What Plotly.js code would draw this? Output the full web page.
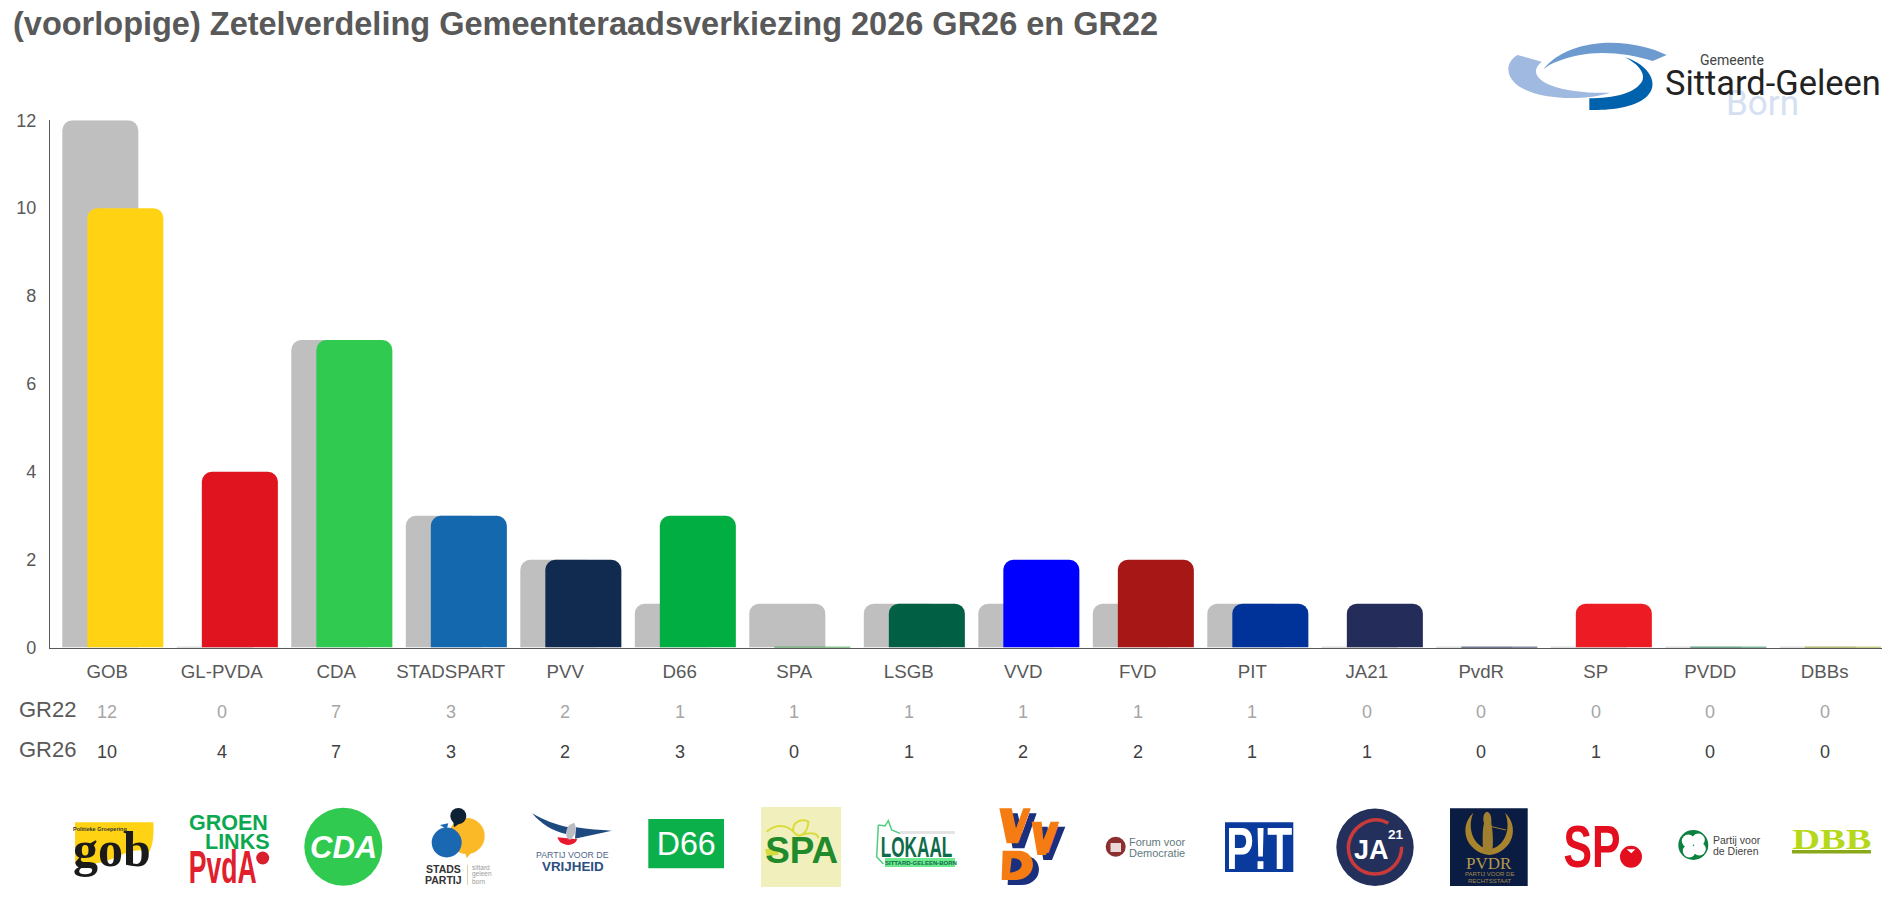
<!DOCTYPE html>
<html>
<head>
<meta charset="utf-8">
<script src="https://cdn.plot.ly/plotly-3.0.1.min.js"></script>
<style>html,body{margin:0;padding:0;background:#fff}#chart{width:1890px;height:908px}</style>
</head>
<body>
<div id="chart"></div>
<script>
const parties = ['GOB','GL-PVDA','CDA','STADSPART','PVV','D66','SPA','LSGB','VVD','FVD','PIT','JA21','PvdR','SP','PVDD','DBBs'];
const gr22 = [12,0,7,3,2,1,1,1,1,1,1,0,0,0,0,0];
const gr26 = [10,4,7,3,2,3,0,1,2,2,1,1,0,1,0,0];
const gr26Colors = ['#ffd314','#e0141e','#2fca4f','#1468ae','#102a50','#00ae42','#218a2b','#015f43','#0000ff','#a61716','#003399','#242c5a','#0a1c42','#ed1c24','#006b3c','#8a9a10'];
const gr22Color = '#bfbfbf';
const chartTitle = '(voorlopige) Zetelverdeling Gemeenteraadsverkiezing 2026 GR26 en GR22';
const rowLabels = ['GR22','GR26'];
const yTicks = [0,2,4,6,8,10,12];

const W = 1890, H = 908;
const PX = x => x / W, PY = y => 1 - y / H;
const SANS = 'Liberation Sans, Arial, sans-serif', SERIF = 'Liberation Serif, serif', DIN = 'Roboto, sans-serif';

const annotations = [];
const squeeze = {};
function txt(x, y, text, size, color, o = {}) {
  if (o.len) squeeze[annotations.length] = o.len;
  annotations.push({xref:'paper', yref:'paper', x:PX(x), y:PY(y), text, showarrow:false,
    xanchor:o.anchor||'center', yanchor:'middle', borderpad:0,
    font:{family:o.family||SANS, size, color, weight:o.bold?'bold':'normal', style:o.italic?'italic':'normal'}});
}
const shapes = [];
function path(ox, oy, d, fill, line, lw) {
  const p = d.replace(/(-?\d+\.?\d*),(-?\d+\.?\d*)/g, (m,a,b) =>
    PX(ox + a/3).toFixed(5) + ',' + PY(oy + b/3).toFixed(5));
  shapes.push({type:'path', xref:'paper', yref:'paper', path:p, fillcolor:fill||'rgba(0,0,0,0)',
    line:{color:line||'rgba(0,0,0,0)', width:lw||0}, layer:'above'});
}
function circle(cx, cy, r, fill) {
  shapes.push({type:'circle', xref:'paper', yref:'paper', x0:PX(cx-r), x1:PX(cx+r), y0:PY(cy+r), y1:PY(cy-r),
    fillcolor:fill, line:{width:0}, layer:'above'});
}
function rect(x0, y0, x1, y1, fill) {
  shapes.push({type:'rect', xref:'paper', yref:'paper', x0:PX(x0), x1:PX(x1), y0:PY(y1), y1:PY(y0),
    fillcolor:fill, line:{width:0}, layer:'above'});
}

/* table rows under the axis */
parties.forEach((p,i) => {
  annotations.push({xref:'x', yref:'paper', x:p, y:PY(712), text:String(gr22[i]), showarrow:false, yanchor:'middle',
    font:{family:SANS, size:18, color:'#a6a6a6'}});
  annotations.push({xref:'x', yref:'paper', x:p, y:PY(752), text:String(gr26[i]), showarrow:false, yanchor:'middle',
    font:{family:SANS, size:18, color:'#404040'}});
});
txt(18, 709, rowLabels[0], 22, '#595959', {anchor:'left'});
txt(18, 749, rowLabels[1], 22, '#595959', {anchor:'left'});

/* municipal logo */
path(1490,30,'M160,118 C200,65 280,38 360,38 C430,38 490,55 530,75 L488,93 C420,70 330,62 270,75 C220,85 180,100 160,118 Z','#6e9bcf');
path(1490,30,'M82,75 L155,95 C125,120 135,145 180,165 C230,185 300,190 360,188 C280,215 130,210 75,160 C45,130 50,95 82,75 Z','#a0b9e0');
path(1490,30,'M405,82 C480,105 510,165 470,200 C430,235 360,240 298,240 L298,205 C370,205 440,190 458,150 C465,125 440,100 405,82 Z','#0061ac');
txt(1762, 103, 'Born', 35, '#d5e0f3', {family:DIN});
txt(1731.5, 60, 'Gemeente', 14, '#444444', {family:DIN});
txt(1773, 82.5, 'Sittard-Geleen', 34.4, '#222222', {family:DIN});

/* gob */
path(50,790,'M75,97 L310,97 C312,130 310,170 295,190 C270,170 235,185 190,205 C150,225 100,225 75,215 Z','#ffd314');
txt(112, 849, 'gob', 50, '#1a1a1a', {family:SERIF, bold:true});
txt(99.5, 828.5, 'Politieke Groepering', 5.5, '#333333', {bold:true});
/* GroenLinks PvdA */
txt(228, 823, 'GROEN', 21.5, '#0aa84f', {bold:true});
txt(237, 841.5, 'LINKS', 21.5, '#0aa84f', {bold:true});
txt(223, 867, 'PvdA', 46, '#e0202c', {bold:true, len:68});
circle(262.7, 858, 6.5, '#d8202c');
/* CDA */
circle(343.3, 846.7, 39, '#2fca4f');
txt(343, 847, 'CDA', 31, '#ffffff', {bold:true, italic:true});
/* Stadspartij */
circle(466.7, 836, 18, '#fbb927');
circle(446.7, 842.5, 15, '#1a68b1');
circle(458.3, 816, 8, '#0f2233');
path(50,790,'M1210,95 L1212,112 L1232,98 Z','#0f2233');
path(50,790,'M1170,105 L1195,100 L1190,118 Z','#1a68b1');
path(50,790,'M1245,185 L1250,205 L1270,180 Z','#fbb927');
rect(467, 865, 467.8, 885, '#d8c58a');
txt(443, 869, 'STADS', 10.5, '#333333', {bold:true});
txt(443, 880, 'PARTIJ', 10.5, '#333333', {bold:true});
txt(471, 867, 'sittard', 6.5, '#999999', {anchor:'left'});
txt(471, 874, 'geleen', 6.5, '#999999', {anchor:'left'});
txt(471, 881, 'born', 6.5, '#999999', {anchor:'left'});
/* PVV */
path(500,790,'M97,70 C130,90 170,105 205,112 L198,132 C160,125 120,100 97,70 Z','#1f4a80');
path(500,790,'M228,112 C265,118 300,120 335,122 C300,130 260,138 225,146 Z','#1f4a80');
path(500,790,'M172,142 L232,148 C225,165 205,168 192,162 C180,160 175,150 172,142 Z','#e8192c');
path(500,790,'M222,98 C232,110 228,135 210,150 C195,145 195,120 208,105 Z','#b9bcc2');
txt(572.5, 854.5, 'PARTIJ VOOR DE', 8.8, '#50668a');
txt(573, 866.5, 'VRIJHEID', 13.4, '#2b4f80', {bold:true});
/* D66 */
rect(648.3, 819, 724, 868.3, '#0cb04a');
txt(686, 843.5, 'D66', 33, '#ffffff', {len:59});
/* SPA */
rect(761, 807, 841, 887, '#f1f0bd');
path(500,790,'M800,125 C830,100 860,105 880,125 C875,95 905,85 925,95 C925,115 915,130 905,135 C930,125 955,130 955,145 M880,125 C890,135 895,140 905,135','',"#d9dc3e",2);
path(500,790,'M795,178 L840,172 L835,195 L800,198 Z','#d9dc3e');
txt(801.5, 850, 'SPA', 37, '#218a2b', {bold:true, len:73});
/* LSGB */
path(500,790,'M1135,105 L1155,108 L1165,92 L1175,120 L1200,130 M1135,105 L1130,200 L1150,222','',"#4fce7e",1.5);
rect(900, 831, 955, 834, '#e4e4e4');
rect(885, 858, 955, 867, '#6ce88d');
txt(916, 846, 'LOKAAL', 30, '#0e6b4a', {bold:true, len:71.7});
txt(921, 862.5, 'SITTARD-GELEEN-BORN', 6, '#0e6b4a', {bold:true});
/* VVD */
const vvdV1 = 'M118,55 L155,55 L168,115 L190,55 L212,55 L175,160 L140,160 Z';
const vvdV2 = 'M215,95 L245,95 L250,150 L272,95 L298,95 L258,195 L232,195 Z';
const vvdD = 'M128,182 L175,182 C235,182 235,270 165,270 L125,270 Z';
[vvdV1,vvdV2,vvdD].forEach(d => path(960+6,790+5,d,'#1a2f7d'));
[vvdV1,vvdV2,vvdD].forEach(d => path(960,790,d,'#f47c12'));
path(960,790,'M155,205 L150,248 C195,245 195,205 160,205 Z','#1a2f7d');
txt(1015, 825, 'V', 46, '#f47c12', {bold:true});
txt(1045.7, 839, 'V', 40, '#f47c12', {bold:true});
/* FVD */
circle(1115.7, 846.7, 10, '#8c2f2f');
rect(1110.5, 843, 1121, 852, '#e9d9d9');
txt(1128, 841.5, 'Forum voor', 11, '#5f7a80', {anchor:'left'});
txt(1128, 852.5, 'Democratie', 11, '#5f7a80', {anchor:'left'});
/* PIT */
rect(1225, 822.3, 1293.3, 872, '#0a3a9c');
txt(1259.5, 848, 'P!T', 60, '#ffffff', {bold:true, len:66});
/* JA21 */
circle(1375, 847.3, 38.7, '#23305c');
path(960,790,'M1285,100 C1235,70 1170,110 1165,170 C1165,220 1200,252 1245,252 C1290,252 1325,215 1325,170','',"#c93a3a",3.5);
txt(1371, 850, 'JA', 27, '#ffffff', {bold:true});
txt(1395.7, 834, '21', 13.5, '#ffffff', {bold:true});
/* PVDR */
rect(1450, 808.3, 1527.7, 886, '#0a1c42');
path(1430,790,'M130,68 C85,110 105,185 178,195 C250,185 270,110 225,68 C245,115 225,170 178,178 C130,170 110,115 130,68 Z','#a8842f');
path(1430,790,'M170,65 C180,65 186,80 184,100 C190,130 190,170 186,190 L158,190 C160,160 155,130 162,100 C158,85 160,70 170,65 Z','#a08030');
path(1430,790,'M185,110 L228,120','','#a08030',1);
txt(1489, 863.5, 'PVDR', 17, '#b5984f', {family:SERIF});
txt(1489, 874, 'PARTIJ VOOR DE', 6, '#a38a50');
txt(1489, 880.5, 'RECHTSSTAAT', 6, '#a38a50');
/* SP */
txt(1591.7, 846.7, 'SP', 60, '#e30e1e', {bold:true, len:57});
circle(1631, 856.7, 11, '#e30e1e');
path(1430,790,'M590,178 L604,190 L616,178 Z','#ffffff');
/* PvdD */
circle(1693.3, 845, 15, '#0c8040');
[[-5,-4],[5,-5],[-4,6],[6,4]].forEach(([a,b]) => circle(1693.3+a, 845+b, 6.5, '#ffffff'));
txt(1711.5, 840, 'Partij voor', 10.5, '#444444', {anchor:'left'});
txt(1711.5, 851, 'de Dieren', 10.5, '#444444', {anchor:'left'});
/* DBB */
rect(1792, 850, 1871, 853.5, '#8aa81a');
txt(1832, 838, 'DBB', 30, '#b5d91a', {family:SERIF, bold:true, len:79});

const traces = [
  {type:'bar', name:'GR22', x:parties, y:gr22, width:0.664, offset:-0.3926, cliponaxis:false,
   marker:{color:gr22.map(() => gr22Color), cornerradius:10, line:{color:gr22.map(() => gr22Color), width:gr22.map(v => v===0?1.5:0)}},
   hoverinfo:'x+y'},
  {type:'bar', name:'GR26', x:parties, y:gr26, width:0.664, offset:-0.174, cliponaxis:false,
   marker:{color:gr26Colors, cornerradius:10, line:{color:gr26Colors, width:gr26.map(v => v===0?1.5:0)}},
   hoverinfo:'x+y'}
];

const layout = {
  width:W, height:H, autosize:false, showlegend:false, barmode:'overlay',
  paper_bgcolor:'#ffffff', plot_bgcolor:'#ffffff',
  margin:{l:0, r:0, t:0, b:0, pad:0},
  title:{text:chartTitle, x:13/W, xanchor:'left', xref:'paper', yref:'paper', y:PY(24), yanchor:'middle', automargin:false,
    font:{family:SANS, size:32.5, color:'#595959', weight:'bold'}},
  xaxis:{domain:[50/W, 1882/W], type:'category', categoryorder:'array', categoryarray:parties, fixedrange:true,
    showgrid:false, zeroline:false, showline:true, linecolor:'#595959', linewidth:1.2, layer:'below traces',
    ticks:'outside', ticklen:7, tickcolor:'rgba(0,0,0,0)', automargin:false,
    tickfont:{family:SANS, size:18.7, color:'#595959'}, tickangle:0},
  yaxis:{domain:[PY(647.6), PY(120.3)], range:[0,12], fixedrange:true, tickvals:yTicks,
    showgrid:false, zeroline:false, showline:true, linecolor:'#595959', linewidth:1.2, layer:'below traces',
    ticks:'outside', ticklen:9, tickcolor:'rgba(0,0,0,0)', automargin:false,
    tickfont:{family:SANS, size:18, color:'#595959'}},
  annotations, shapes
};
Plotly.newPlot('chart', traces, layout, {displayModeBar:false, responsive:false}).then(() => {
  document.querySelectorAll('.annotation').forEach(a => {
    const len = squeeze[a.getAttribute('data-index')];
    const t = a.querySelector('.annotation-text');
    if (len && t) { t.setAttribute('textLength', len); t.setAttribute('lengthAdjust', 'spacingAndGlyphs'); }
  });
});
</script>
</body>
</html>
